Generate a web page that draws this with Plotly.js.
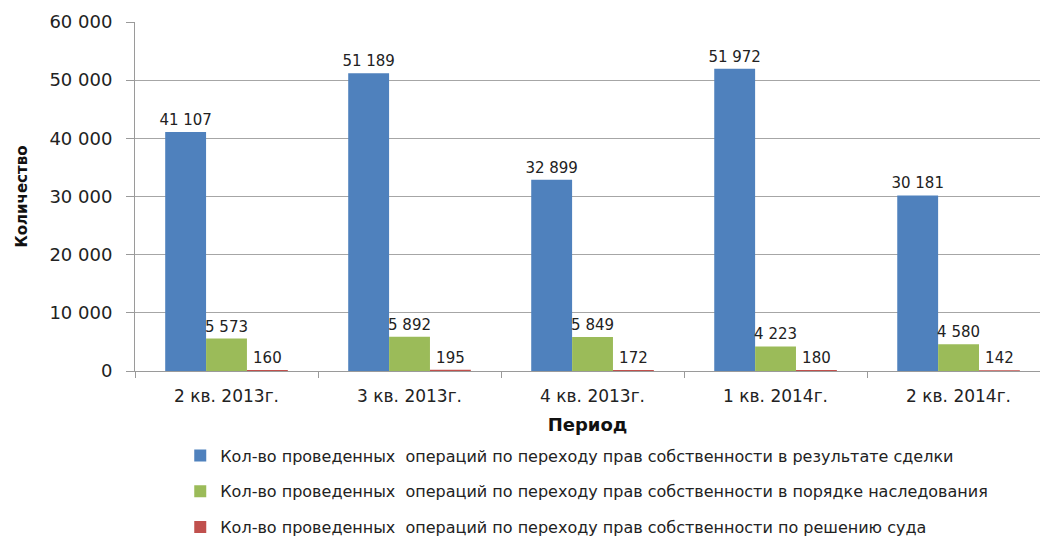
<!DOCTYPE html>
<html>
<head>
<meta charset="utf-8">
<script src="https://cdn.plot.ly/plotly-3.0.1.min.js"></script>
<style>
  html, body { margin: 0; padding: 0; background: #ffffff; }
  #chart { width: 1040px; height: 540px; }
</style>
</head>
<body>
<div id="chart"></div>
<script>
const categories = ['2 кв. 2013г.', '3 кв. 2013г.', '4 кв. 2013г.', '1 кв. 2014г.', '2 кв. 2014г.'];
const dealValues = [41107, 51189, 32899, 51972, 30181];
const inheritValues = [5573, 5892, 5849, 4223, 4580];
const courtValues = [160, 195, 172, 180, 142];
const seriesNames = [
  'Кол-во проведенных\u00a0 операций по переходу прав собственности в результате сделки',
  'Кол-во проведенных\u00a0 операций по переходу прав собственности в порядке наследования',
  'Кол-во проведенных\u00a0 операций по переходу прав собственности по решению суда'
];
const seriesColors = ['#4F81BD', '#9BBB59', '#C0504D'];
const yTickValues = [0, 10000, 20000, 30000, 40000, 50000, 60000];

function fmt(v) {
  return String(v).replace(/\B(?=(\d{3})+(?!\d))/g, ' ');
}

const FONT = 'DejaVu Sans, Verdana, sans-serif';
const allSeries = [dealValues, inheritValues, courtValues];

const traces = allSeries.map((vals, i) => ({
  type: 'bar',
  name: seriesNames[i],
  x: categories,
  y: vals,
  text: vals.map(fmt),
  textposition: 'outside',
  constraintext: 'none',
  cliponaxis: false,
  textfont: { family: FONT, size: 15, color: '#222222' },
  marker: { color: seriesColors[i], line: { width: 0 } },
  legendgroup: 'g' + i,
  hoverinfo: 'x+y'
}));

const layout = {
  width: 1040,
  height: 540,
  margin: { l: 135, r: 0, t: 22, b: 169, autoexpand: false },
  paper_bgcolor: '#ffffff',
  plot_bgcolor: '#ffffff',
  separators: ', ',
  barmode: 'group',
  bargap: 0.33,
  bargroupgap: 0,
  font: { family: FONT, color: '#222222' },
  xaxis: {
    type: 'category',
    range: [-0.5, 4.445],
    showline: true,
    linecolor: '#9a9a9a',
    linewidth: 1,
    ticks: 'outside',
    tickson: 'boundaries',
    ticklen: 6,
    tickcolor: '#9a9a9a',
    ticklabelstandoff: 10,
    showgrid: false,
    tickfont: { family: FONT, size: 17, color: '#222222' },
    title: { text: '<b>Период</b>', font: { family: FONT, size: 18, color: '#111111' }, standoff: 12 }
  },
  yaxis: {
    range: [0, 60000],
    tickvals: yTickValues,
    tickformat: ',d',
    showline: true,
    linecolor: '#9a9a9a',
    linewidth: 1,
    ticks: 'outside',
    ticklen: 8,
    tickcolor: '#9a9a9a',
    ticklabelstandoff: 10,
    showgrid: true,
    gridcolor: '#a6a6a6',
    gridwidth: 1,
    zeroline: false,
    tickfont: { family: FONT, size: 18, color: '#222222' },
    title: { text: '<b>Количество</b>', font: { family: FONT, size: 15, color: '#111111' }, standoff: 18 }
  },
  showlegend: true,
  legend: {
    orientation: 'v',
    x: 0.05,
    xanchor: 'left',
    yref: 'container',
    y: 0.188,
    yanchor: 'top',
    tracegroupgap: 12,
    font: { family: FONT, size: 16, color: '#222222' },
    bgcolor: 'rgba(0,0,0,0)'
  }
};

Plotly.newPlot('chart', traces, layout, { displayModeBar: false, staticPlot: true });
</script>
</body>
</html>
